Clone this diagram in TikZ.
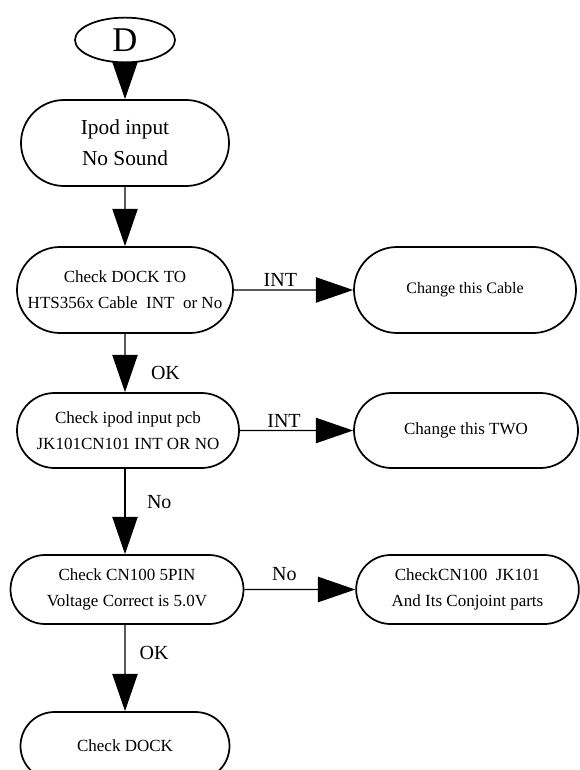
\documentclass[tikz,border=0pt]{standalone}
\usepackage{fontspec}
\setmainfont{Liberation Serif}
\usetikzlibrary{shapes.geometric,shapes.misc,arrows.meta}

\begin{document}
\begin{tikzpicture}[x=0.75pt,y=-0.75pt,
    box/.style={draw,rounded rectangle,line width=1.3pt,inner sep=0pt,align=center,
      font=\fontsize{12.75}{19.5}\selectfont},
    flow/.style={line width=1pt,-{Triangle[length=28pt,width=19pt]}},
    lbl/.style={font=\fontsize{15}{18}\selectfont,inner sep=2pt}]
  \useasboundingbox (0,0) rectangle (580,770);

  \node[draw,ellipse,line width=1.3pt,minimum width=75pt,minimum height=30pt,
    font=\fontsize{26}{30}\selectfont] (d) at (125,40) {D};
  \node[box,minimum width=156pt,minimum height=64.5pt,
    font=\fontsize{16}{23}\selectfont] (ipod) at (125,143) {Ipod input\\No Sound};
  \node[box,minimum width=162pt,minimum height=64.5pt] (dock) at (125,290)
    {Check DOCK TO\\HTS356x Cable\ \ INT\ \ or No};
  \node[box,minimum width=166.5pt,minimum height=64.5pt,
    font=\fontsize{12}{18}\selectfont] (cable) at (465,290) {Change this Cable};
  \node[box,minimum width=166.5pt,minimum height=56.25pt] (pcb) at (128,430.5)
    {Check ipod input pcb\\JK101CN101 INT OR NO};
  \node[box,minimum width=168pt,minimum height=56.25pt] (two) at (466,430.5) {Change this TWO};
  \node[box,minimum width=174.75pt,minimum height=51.75pt] (cn) at (127,589.5)
    {Check CN100 5PIN\\Voltage Correct is 5.0V};
  \node[box,minimum width=167pt,minimum height=51.75pt] (conj) at (467.5,589.5)
    {CheckCN100\ \ JK101\\And Its Conjoint parts};
  \node[box,minimum width=156.75pt,minimum height=51pt] (chk) at (125,746) {Check DOCK};

  % connectors
  \draw[flow] (d) -- (ipod);
  \draw[flow] (ipod) -- (dock);
  \draw[flow] (dock) -- node[lbl,above,pos=0.39]{INT} (cable);
  \draw[flow] (dock) -- node[lbl,right=17pt,pos=0.67]{OK} (dock |- pcb.north);
  \draw[flow] (pcb) -- node[lbl,above,pos=0.39]{INT} (two);
  \draw[flow] (pcb.south -| dock) -- node[lbl,right=14pt,pos=0.39]{No} (cn.north -| dock);
  \draw[flow] (cn) -- node[lbl,above,pos=0.36,yshift=4pt]{No} (conj);
  \draw[flow] (cn.south -| dock) -- node[lbl,right=8.5pt,pos=0.33]{OK} (chk);

\end{tikzpicture}
\end{document}
